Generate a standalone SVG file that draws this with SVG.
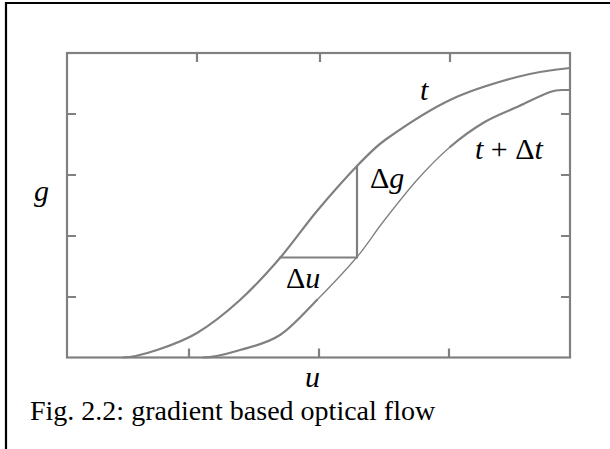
<svg xmlns="http://www.w3.org/2000/svg" width="610" height="449" viewBox="0 0 610 449">
<style>
.ax{fill:none;stroke:#808080;stroke-width:2.2}
.cv{fill:none;stroke:#808080;stroke-width:2.2;stroke-linecap:round;stroke-linejoin:round}
.thin{stroke-width:1.3}
.lbl{font-family:"Liberation Serif","Times New Roman",serif;font-size:30px;fill:#000}
.it{font-style:italic}
.cap{font-family:"Liberation Serif","Times New Roman",serif;font-size:28px;fill:#000}
</style>
<rect width="610" height="449" fill="#fff"/>
<path d="M6,449 V3 H610" fill="none" stroke="#000" stroke-width="2.2"/>
<g id="axes">
<rect class="ax" x="67" y="53" width="503" height="304.5"/>
<path class="ax" d="M197,53 v9 M320,53 v9 M450,53 v9 M189,357.5 v-9 M319,357.5 v-9 M449,357.5 v-9 M67,114 h9 M67,175 h9 M67,236 h9 M67,297 h9 M570,114 h-9 M570,175 h-9 M570,236 h-9 M570,297 h-9"/>
</g>
<g id="connectors">
<path id="curve-t" class="cv" d="M123,357.5 C134.3,357.5 145.7,353.75 157,350 C170.3,345.6 183.7,341 197,333 C211.3,324.4 225.7,313 240,300 C253.3,288 266.7,273.4 280,258 C292.3,243.7 304.7,225.7 317,211 C330.3,195.1 343.7,179.9 357,166 C366.3,156.3 375.7,146.6 385,140 C406.7,124.6 428.3,110.3 450,100 C472.3,89.3 494.7,83 517,77 C534.7,72.3 552.3,69.8 570,68"/>
<path id="curve-tdt-a" class="cv" d="M203,357.5 C215.3,357.5 227.7,353.6 240,350 C253.3,346.1 266.7,343.7 280,335 C292.3,327 304.7,312.5 317,300"/>
<path id="curve-tdt-b" class="cv thin" d="M317,300 C330.3,286.5 343.7,272.7 357,257 C365.7,246.8 374.3,233.1 383,222 C394.3,207.5 405.7,192.7 417,180 C428,167.7 439,156.5 450,147"/>
<path id="curve-tdt-c" class="cv" d="M450,147 C461,137.5 472,129.6 483,123 C494.3,116.2 505.7,112.2 517,107 C528,101.9 539,96.2 550,92 C554,90.5 558,90 562,90 L570,90"/>
<path id="delta-g" class="cv" d="M357,166 V257.5"/>
<path id="delta-u" class="cv" d="M280,257.5 H357"/>
</g>
<g id="labels">
<text class="lbl it" x="420" y="100">t</text>
<text class="lbl" x="475" y="159"><tspan class="it">t</tspan> + Δ<tspan class="it">t</tspan></text>
<text class="lbl" x="370" y="188">Δ<tspan class="it">g</tspan></text>
<text class="lbl" x="286" y="288">Δ<tspan class="it">u</tspan></text>
<text class="lbl it" x="34" y="201">g</text>
<text class="lbl it" x="305" y="387">u</text>
<text class="cap" x="30" y="420">Fig. 2.2: gradient based optical flow</text>
</g>
</svg>
